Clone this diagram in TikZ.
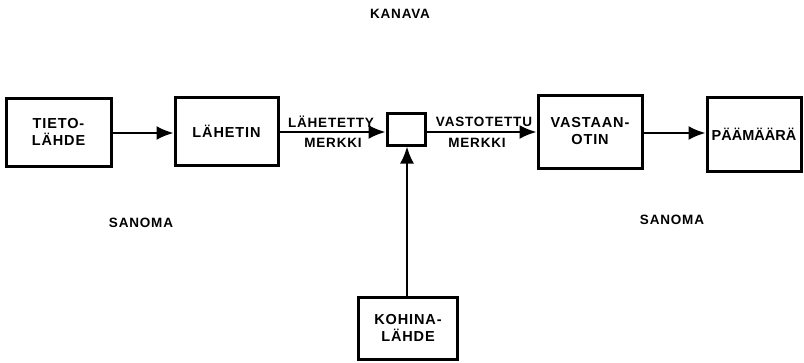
\documentclass[tikz,border=0pt]{standalone}
\usepackage{fontspec}
\setmainfont{Liberation Sans}[LetterSpace=6]
\usetikzlibrary{arrows.meta}
\begin{document}
\begin{tikzpicture}[x=1pt,y=-1pt,
  blockbox/.style={draw, line width=3pt, rectangle, align=center, inner sep=0pt,
    font=\bfseries\fontsize{14.5}{17}\selectfont},
  lbl/.style={font=\bfseries\fontsize{13.5}{15}\selectfont, inner sep=0pt},
  conn/.style={line width=2.2pt, -{Latex[length=17pt,width=14pt]}}]
\useasboundingbox (0,0) rectangle (804,362);
\node[blockbox, minimum width=105pt, minimum height=68pt] (tieto) at (58.5,132) {TIETO-\\LÄHDE};
\node[blockbox, minimum width=103pt, minimum height=68pt] (lahetin) at (226.5,131) {LÄHETIN};
\node[blockbox, minimum width=38pt, minimum height=32pt] (sum) at (406,129) {};
\node[blockbox, minimum width=104pt, minimum height=73pt] (vast) at (590,131.5) {VASTAAN-\\OTIN};
\node[blockbox, minimum width=94pt, minimum height=74pt] (paa) at (754,134) {\addfontfeature{LetterSpace=0}PÄÄMÄÄRÄ};
\node[blockbox, minimum width=99pt, minimum height=62pt] (kohina) at (408,328) {KOHINA-\\LÄHDE};
\draw[conn] (tieto.east |- 0,133) -- (lahetin.west |- 0,133);
\draw[conn] (lahetin.east |- 0,132) -- (sum.west |- 0,132);
\draw[conn] (sum.east |- 0,132) -- (vast.west |- 0,132);
\draw[conn] (vast.east |- 0,133) -- (paa.west |- 0,133);
\draw[conn] (kohina.north -| 407,0) -- (sum.south -| 407,0);
\node[lbl] (kanava) at (400,14) {KANAVA};
\node[lbl] (san1) at (141,223) {SANOMA};
\node[lbl] (san2) at (672,220) {SANOMA};
\node[lbl] (lm1) at (331,122) {LÄHETETTY};
\node[lbl] (lm2) at (333,143) {MERKKI};
\node[lbl] (vm1) at (484,122) {VASTOTETTU};
\node[lbl] (vm2) at (477,143) {MERKKI};
\end{tikzpicture}
\end{document}
